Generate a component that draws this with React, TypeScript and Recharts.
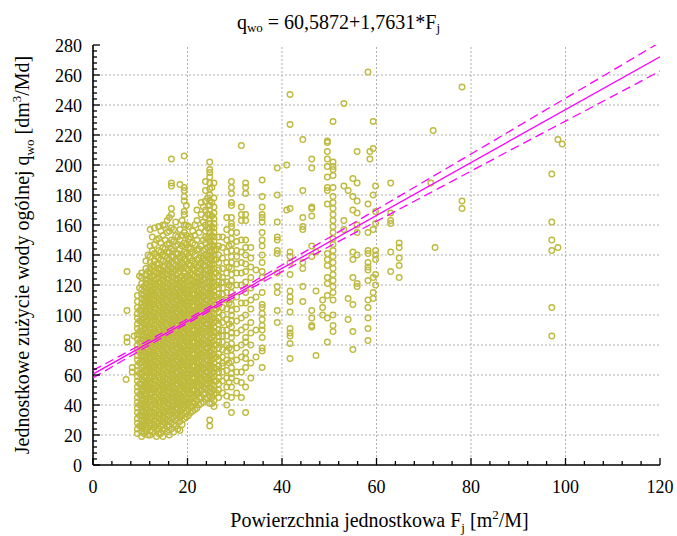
import React from 'react';
import { ScatterChart, Scatter, XAxis, YAxis, ReferenceLine } from 'recharts';

const FONT = '"Liberation Serif", "DejaVu Serif", serif';
const POINT_COLOR = '#bfba3e';
const FIT_COLOR = '#ff00ff';

const X_MAJOR_TICKS = [0, 20, 40, 60, 80, 100, 120];
const X_ALL_TICKS = [0, 4, 8, 12, 16, 20, 24, 28, 32, 36, 40, 44, 48, 52, 56, 60, 64, 68, 72, 76, 80, 84, 88, 92, 96, 100, 104, 108, 112, 116, 120];
const Y_MAJOR_TICKS = [0, 20, 40, 60, 80, 100, 120, 140, 160, 180, 200, 220, 240, 260, 280];
const Y_ALL_TICKS = [0, 4, 8, 12, 16, 20, 24, 28, 32, 36, 40, 44, 48, 52, 56, 60, 64, 68, 72, 76, 80, 84, 88, 92, 96, 100, 104, 108, 112, 116, 120, 124, 128, 132, 136, 140, 144, 148, 152, 156, 160, 164, 168, 172, 176, 180, 184, 188, 192, 196, 200, 204, 208, 212, 216, 220, 224, 228, 232, 236, 240, 244, 248, 252, 256, 260, 264, 268, 272, 276, 280];
const X_GRID = [20, 40, 60, 80, 100];
const Y_GRID = [20, 40, 60, 80, 100, 120, 140, 160, 180, 200, 220, 240, 260];

// regression q = 60,5872 + 1,7631*F and its confidence band
const FIT_X = [0, 120];
const FIT_Y = [60.59, 272.16];
const BAND_X = [0, 10, 20, 30, 40, 50, 60, 70, 80, 90, 100, 110, 120];
const BAND_UPPER = [63.1, 80.0, 97.3, 115.0, 133.3, 151.7, 170.3, 188.8, 207.3, 225.9, 244.5, 263.1, 281.8];
const BAND_LOWER = [58.1, 76.4, 94.5, 112.0, 128.9, 145.7, 162.5, 179.2, 195.9, 212.7, 229.3, 245.9, 262.6];

// observations, grouped as [F_j, list of q_wo]
const LEFT_POINTS: [number, number[]][] = [
  [7.0, [57]],
  [7.2, [129, 103, 85, 82]],
  [8.3, [65, 62]],
  [8.7, [86]],
];

const CORE_POINTS: [number, number[]][] = [
  [9.4, [21, 24, 28, 31, 35, 38, 42, 45, 49, 52, 56, 59, 63, 66, 70, 73, 77, 80, 84, 87, 91, 94, 98, 101, 105, 109, 113]],
  [10.3, [19, 22, 25, 27, 30, 33, 35, 38, 41, 43, 46, 49, 51, 54, 57, 60, 62, 65, 68, 70, 73, 76, 78, 81, 84, 87, 89, 92, 95, 97, 100, 103, 105, 108, 111, 114, 117, 121, 125, 128]],
  [11.2, [22, 24, 27, 30, 32, 35, 38, 40, 43, 46, 48, 51, 54, 56, 59, 62, 64, 67, 70, 72, 75, 78, 80, 83, 86, 88, 91, 94, 96, 99, 102, 104, 107, 110, 112, 115, 118, 121, 124, 127, 131, 136]],
  [12.1, [20, 23, 26, 28, 31, 34, 36, 39, 42, 44, 47, 50, 52, 55, 58, 60, 63, 66, 68, 71, 74, 76, 79, 82, 84, 87, 90, 92, 95, 98, 100, 103, 106, 108, 111, 114, 116, 119, 122, 125, 128, 131, 135, 139, 146, 157]],
  [13.0, [25, 27, 30, 33, 35, 38, 41, 43, 46, 49, 51, 54, 57, 59, 62, 65, 67, 70, 73, 75, 78, 81, 83, 86, 89, 91, 94, 97, 99, 102, 105, 107, 110, 113, 115, 118, 121, 123, 126, 129, 132, 136, 141, 147, 158]],
  [13.9, [21, 24, 28, 31, 34, 36, 39, 42, 44, 47, 50, 52, 55, 58, 60, 63, 66, 68, 71, 74, 76, 79, 82, 84, 87, 90, 92, 95, 98, 100, 103, 106, 108, 111, 114, 116, 119, 122, 125, 128, 131, 134, 138, 143, 151, 159]],
  [14.8, [19, 23, 27, 29, 32, 35, 37, 40, 43, 45, 48, 51, 53, 56, 59, 61, 64, 67, 69, 72, 75, 77, 80, 83, 85, 88, 91, 93, 96, 99, 101, 104, 107, 109, 112, 115, 117, 120, 123, 126, 129, 132, 136, 140, 145, 153, 160]],
  [15.7, [22, 26, 30, 33, 36, 38, 41, 44, 46, 49, 52, 54, 57, 60, 62, 65, 68, 70, 73, 76, 78, 81, 84, 86, 89, 92, 94, 97, 100, 102, 105, 108, 110, 113, 116, 118, 121, 124, 127, 130, 134, 138, 142, 147, 155, 163]],
  [16.6, [24, 28, 31, 34, 37, 39, 42, 45, 47, 50, 53, 55, 58, 61, 63, 66, 69, 71, 74, 77, 79, 82, 85, 87, 90, 93, 95, 98, 101, 103, 106, 109, 111, 114, 117, 119, 122, 125, 128, 131, 135, 139, 144, 150, 158, 167, 171, 186, 188, 204]],
  [17.5, [26, 30, 33, 35, 38, 41, 43, 46, 49, 51, 54, 57, 59, 62, 65, 67, 70, 73, 75, 78, 81, 83, 86, 89, 91, 94, 97, 99, 102, 105, 107, 110, 113, 115, 118, 121, 124, 127, 130, 133, 137, 141, 146, 153, 162]],
  [18.4, [23, 29, 32, 36, 39, 42, 44, 47, 50, 52, 55, 58, 60, 63, 66, 68, 71, 74, 76, 79, 82, 84, 87, 90, 92, 95, 98, 100, 103, 106, 108, 111, 114, 116, 119, 122, 125, 129, 133, 138, 144, 150, 157, 187]],
  [19.3, [31, 35, 38, 40, 43, 46, 48, 51, 54, 56, 59, 62, 64, 67, 70, 72, 75, 78, 80, 83, 86, 88, 91, 94, 96, 99, 102, 104, 107, 110, 112, 115, 118, 121, 124, 128, 132, 137, 142, 148, 155, 160, 167, 169, 176, 179, 183, 185, 206]],
  [20.2, [33, 37, 40, 42, 45, 48, 50, 53, 56, 58, 61, 64, 66, 69, 72, 74, 77, 80, 82, 85, 88, 90, 93, 96, 98, 101, 104, 106, 109, 112, 114, 117, 120, 123, 126, 130, 134, 139, 145, 151, 159]],
  [21.1, [36, 39, 42, 45, 47, 50, 53, 55, 58, 61, 63, 66, 69, 71, 74, 77, 79, 82, 85, 87, 90, 93, 95, 98, 101, 103, 106, 109, 111, 114, 117, 120, 123, 127, 131, 136, 142, 148, 156]],
  [22.0, [38, 43, 47, 49, 52, 55, 57, 60, 63, 65, 68, 71, 73, 76, 79, 81, 84, 87, 89, 92, 95, 97, 100, 103, 105, 108, 111, 113, 116, 119, 122, 125, 128, 132, 137, 143, 150, 163, 170]],
  [22.9, [41, 45, 50, 53, 56, 58, 61, 64, 66, 69, 72, 74, 77, 80, 82, 85, 88, 90, 93, 96, 98, 101, 104, 106, 109, 112, 114, 117, 120, 123, 126, 130, 134, 139, 146, 158, 167, 175]],
  [23.8, [44, 48, 51, 54, 57, 59, 62, 65, 67, 70, 73, 75, 78, 81, 83, 86, 89, 91, 94, 97, 99, 102, 105, 107, 110, 113, 115, 118, 121, 124, 127, 130, 133, 136, 140, 144, 148, 152, 156, 160, 165, 170, 176, 183, 189]],
  [24.7, [26, 30, 41, 46, 49, 52, 55, 57, 60, 63, 65, 68, 71, 73, 76, 79, 81, 84, 87, 89, 92, 95, 97, 100, 103, 105, 108, 111, 113, 116, 119, 122, 125, 128, 131, 134, 137, 140, 143, 146, 149, 152, 155, 158, 161, 164, 167, 170, 173, 176, 180, 184, 188, 192, 195, 197, 202]],
  [25.6, [39, 43, 47, 50, 53, 56, 59, 62, 65, 68, 71, 74, 77, 80, 83, 86, 89, 92, 95, 98, 101, 104, 107, 110, 113, 116, 119, 122, 125, 128, 131, 134, 137, 140, 143, 146, 149, 152, 155, 158, 161, 164, 168, 172, 178, 188]],
  [26.6, [45, 50, 54, 58, 62, 66, 70, 74, 78, 82, 86, 90, 94, 98, 102, 106, 110, 114, 118, 122, 126, 130, 135, 140, 146, 152]],
  [27.4, [48, 56, 62, 66, 68, 72, 77, 82, 86, 90, 95, 100, 105, 110, 114, 118, 122, 125, 131, 138, 145, 152]],
  [28.3, [40, 46, 52, 58, 63, 70, 76, 80, 86, 90, 97, 104, 110, 115, 122, 128, 135, 142, 150, 157, 165]],
  [29.3, [35, 45, 52, 58, 61, 65, 69, 73, 77, 81, 85, 88, 92, 96, 100, 103, 107, 111, 115, 119, 123, 127, 131, 135, 139, 143, 147, 151, 155, 159, 161, 165, 173, 175, 181, 185, 189]],
  [30.4, [48, 56, 62, 70, 78, 88, 96, 104, 112, 120, 128, 134, 139, 143, 149, 155]],
  [31.4, [45, 55, 62, 72, 80, 90, 98, 108, 120, 128, 135, 142, 150, 163, 167, 172, 213]],
  [32.3, [35, 52, 65, 71, 75, 82, 85, 92, 100, 108, 115, 122, 129, 134, 140, 145, 150, 163, 167, 181, 185, 188]],
  [33.4, [58, 68, 80, 88, 95, 104, 110, 118, 125, 132, 138, 145]],
  [34.5, [72, 90, 112, 130]],
  [35.8, [65, 76, 78, 85, 90, 93, 97, 101, 105, 107, 115, 125, 129, 135, 140, 146, 150, 155, 162, 165, 167, 172, 179, 190]],
  [39.0, [95, 103, 115, 119, 128, 141, 143, 150, 152, 162, 180, 198]],
  [41.0, [170, 200]],
];

// second, interleaved set of observations inside the densest part of the cloud
const CORE_FILL_POINTS: [number, number[]][] = [
  [9.85, [26, 33, 40, 47, 54, 61, 68, 75, 82, 89, 96, 103, 118, 126]],
  [10.75, [21, 26, 29, 32, 36, 40, 44, 47, 50, 53, 56, 59, 63, 66, 69, 72, 75, 80, 83, 86, 90, 94, 98, 101, 106, 110, 113, 119]],
  [11.65, [20, 25, 29, 33, 37, 41, 45, 50, 53, 57, 61, 65, 69, 74, 77, 82, 85, 89, 93, 97, 101, 106, 109, 113, 117, 123, 129, 140]],
  [12.55, [22, 27, 32, 35, 40, 43, 48, 51, 54, 59, 62, 65, 69, 73, 78, 80, 86, 88, 91, 96, 99, 102, 107, 110, 113, 117, 121, 126, 133, 143, 152]],
  [13.45, [19, 23, 29, 32, 37, 40, 45, 48, 53, 56, 61, 64, 69, 72, 77, 80, 85, 88, 93, 96, 101, 104, 109, 112, 117, 120, 124, 128, 134, 139, 150]],
  [14.35, [21, 26, 30, 34, 38, 42, 46, 50, 54, 57, 62, 66, 70, 73, 78, 81, 86, 89, 94, 97, 102, 105, 110, 113, 118, 121, 127, 130, 137, 142, 148, 156]],
  [15.25, [24, 28, 31, 35, 39, 43, 47, 51, 55, 58, 63, 67, 71, 74, 79, 82, 87, 90, 95, 98, 103, 106, 111, 114, 119, 122, 128, 133, 139, 144, 150, 160]],
  [16.15, [20, 26, 29, 33, 36, 40, 44, 48, 52, 56, 60, 64, 68, 72, 75, 80, 84, 88, 91, 96, 100, 104, 107, 112, 116, 120, 124, 129, 133, 137, 142, 148, 156, 165]],
  [17.05, [22, 27, 32, 36, 40, 45, 48, 52, 56, 60, 64, 68, 72, 76, 80, 85, 88, 92, 96, 100, 104, 108, 112, 116, 120, 125, 129, 134, 139, 143, 149, 157]],
  [17.95, [24, 31, 34, 37, 41, 45, 48, 53, 57, 61, 65, 69, 72, 77, 80, 85, 89, 93, 96, 101, 104, 109, 112, 117, 120, 124, 128, 132, 136, 141, 147, 152]],
  [18.85, [27, 33, 37, 41, 45, 49, 53, 57, 61, 65, 69, 73, 77, 81, 85, 89, 93, 97, 101, 105, 109, 113, 117, 121, 126, 131, 135, 140, 146, 153, 163]],
  [19.75, [32, 36, 41, 45, 50, 53, 58, 61, 66, 69, 74, 77, 82, 85, 90, 93, 98, 101, 106, 109, 114, 117, 122, 126, 131, 136, 141, 147, 153, 160, 173]],
  [20.65, [35, 39, 44, 47, 52, 55, 60, 63, 68, 71, 76, 79, 84, 87, 92, 95, 100, 103, 108, 111, 116, 119, 124, 128, 133, 138, 144, 152]],
  [21.55, [37, 41, 46, 50, 54, 58, 62, 66, 70, 74, 78, 82, 86, 90, 94, 98, 102, 106, 110, 114, 118, 122, 126, 130, 134, 140, 147, 153, 160]],
  [22.45, [40, 45, 48, 53, 57, 61, 65, 69, 73, 77, 81, 85, 89, 93, 97, 101, 105, 109, 113, 117, 121, 125, 129, 133, 138, 144, 155]],
  [23.35, [42, 47, 52, 55, 60, 64, 68, 72, 76, 80, 84, 88, 92, 96, 100, 104, 108, 112, 116, 120, 124, 128, 133, 138, 143, 150, 162, 172]],
  [24.25, [45, 50, 54, 58, 62, 66, 70, 74, 78, 82, 86, 90, 94, 98, 102, 106, 110, 114, 118, 122, 126, 130, 135, 139, 145, 151, 158, 167, 178]],
  [25.15, [41, 45, 49, 54, 58, 61, 66, 70, 73, 78, 82, 85, 90, 94, 97, 102, 106, 109, 114, 118, 121, 126, 130, 133, 138, 142, 147, 153, 159, 166, 175, 185]],
  [26.1, [48, 56, 64, 72, 80, 88, 96, 104, 112, 120, 128, 137, 144]],
  [28.8, [55, 68, 78, 94, 108, 120, 132, 146]],
];

const RIGHT_POINTS: [number, number[]][] = [
  [41.7, [247, 227, 171, 142, 139, 135, 127, 116, 112, 109, 102, 91, 88, 86, 81, 71]],
  [44.4, [217, 183, 165, 159, 157, 135, 131, 119, 109]],
  [46.3, [204, 198, 172, 171, 166, 146, 139, 103, 98, 93, 92]],
  [47.2, [142, 116, 73]],
  [48.6, [110, 105, 100]],
  [49.6, [216, 215, 209, 204, 199, 192, 185, 183, 174, 141, 137, 133, 125, 121, 113, 98, 82]],
  [50.8, [229, 202, 199, 197, 193, 185, 179, 175, 171, 167, 163, 159, 155, 151, 147, 143, 139, 135, 131, 127, 123, 119, 115, 110, 100, 93, 89]],
  [53.1, [241, 186, 163, 157]],
  [54.0, [183, 111, 97]],
  [55.0, [191, 179, 170, 142, 137, 125, 107, 89, 77]],
  [55.9, [209, 188, 176, 168, 160, 155, 140, 121, 119]],
  [58.2, [262, 174, 155, 143, 141, 135, 132, 130, 123, 110, 105, 98, 91, 83]],
  [58.6, [209, 204]],
  [59.3, [229, 211, 180, 157, 125, 115, 111]],
  [59.8, [186, 169, 161, 143, 140, 137, 127, 120]],
  [63.0, [188, 168, 163, 161, 142, 129]],
  [64.8, [148, 145, 138, 133, 125]],
  [71.5, [188]],
  [72.0, [223]],
  [72.4, [145]],
  [78.1, [252, 176, 171]],
  [97.1, [194, 162, 150, 143, 105, 86]],
  [98.4, [217, 145]],
  [99.3, [214]],
];

const observations = [...LEFT_POINTS, ...CORE_POINTS, ...CORE_FILL_POINTS, ...RIGHT_POINTS].flatMap(([x, ys]) =>
  ys.map((y) => ({ x, y }))
);
const fitData = FIT_X.map((x, i) => ({ x, y: FIT_Y[i] }));
const upperData = BAND_X.map((x, i) => ({ x, y: BAND_UPPER[i] }));
const lowerData = BAND_X.map((x, i) => ({ x, y: BAND_LOWER[i] }));

const Ring = (props: any) => (
  <circle cx={props.cx} cy={props.cy} r={2.8} fill="none" stroke={POINT_COLOR} strokeWidth={1.35} />
);
const NoDot = () => <g />;

const BottomTick = (props: any) => {
  const { x, y, payload } = props;
  const major = X_MAJOR_TICKS.includes(payload.value);
  return (
    <g>
      <line x1={x} x2={x} y1={y} y2={y - (major ? 7 : 4)} stroke="#000" strokeWidth={1.3} />
      {major && (
        <text x={x} y={y + 28} textAnchor="middle" fontFamily={FONT} fontSize={18} fill="#000">
          {payload.value}
        </text>
      )}
    </g>
  );
};

const TopTick = (props: any) => {
  const { x, y, payload } = props;
  const major = X_MAJOR_TICKS.includes(payload.value);
  return <line x1={x} x2={x} y1={y} y2={y + (major ? 7 : 4)} stroke="#000" strokeWidth={1.3} />;
};

const LeftTick = (props: any) => {
  const { x, y, payload } = props;
  const major = Y_MAJOR_TICKS.includes(payload.value);
  return (
    <g>
      <line x1={x} x2={x + (major ? 7 : 4)} y1={y} y2={y} stroke="#000" strokeWidth={1.3} />
      {major && (
        <text x={x - 11} y={y + 6.5} textAnchor="end" fontFamily={FONT} fontSize={18} fill="#000">
          {payload.value}
        </text>
      )}
    </g>
  );
};

const RightTick = (props: any) => {
  const { x, y, payload } = props;
  const major = Y_MAJOR_TICKS.includes(payload.value);
  return <line x1={x} x2={x - (major ? 7 : 4)} y1={y} y2={y} stroke="#000" strokeWidth={1.3} />;
};

const XTitle = (props: any) => {
  const vb = props.viewBox || {};
  const cx = vb.x + vb.width / 2 + 3;
  const by = vb.y + 62;
  return (
    <text x={cx} y={by} textAnchor="middle" fontFamily={FONT} fontSize={20} fill="#000">
      <tspan>Powierzchnia jednostkowa F</tspan>
      <tspan fontSize={13} dy={5}>j</tspan>
      <tspan dy={-5}> [m</tspan>
      <tspan fontSize={13} dy={-8}>2</tspan>
      <tspan dy={8}>/M]</tspan>
    </text>
  );
};

const YTitle = (props: any) => {
  const vb = props.viewBox || {};
  const cx = vb.x + 21;
  const cy = vb.y + vb.height / 2;
  return (
    <text
      x={cx}
      y={cy}
      transform={`rotate(-90 ${cx} ${cy})`}
      textAnchor="middle"
      fontFamily={FONT}
      fontSize={20}
      fill="#000"
    >
      <tspan>Jednostkowe zużycie wody ogólnej q</tspan>
      <tspan fontSize={13} dy={5}>wo</tspan>
      <tspan dy={-5}> [dm</tspan>
      <tspan fontSize={13} dy={-8}>3</tspan>
      <tspan dy={8}>/Md]</tspan>
    </text>
  );
};

const axisLineStyle = { stroke: '#000', strokeWidth: 1.6 };

export default function App() {
  return (
    <div style={{ position: 'relative', width: 677, height: 536, overflow: 'hidden' }}>
      <style>{'body{margin:0}'}</style>
      <div
        style={{
          position: 'absolute',
          top: 11,
          left: 8,
          width: 661,
          textAlign: 'center',
          fontFamily: FONT,
          fontSize: 20,
          lineHeight: '23px',
          color: '#000',
          zIndex: 2,
        }}
      >
        q<span style={{ fontSize: 13, verticalAlign: '-0.25em' }}>wo</span> = 60,5872+1,7631*F
        <span style={{ fontSize: 13, verticalAlign: '-0.25em' }}>j</span>
      </div>
      <div style={{ position: 'absolute', left: 8, top: 8 }}>
        <ScatterChart width={669} height={528} margin={{ top: 37, right: 17, bottom: 8, left: 0 }}>
          <XAxis
            type="number"
            dataKey="x"
            domain={[0, 120]}
            ticks={X_ALL_TICKS}
            interval={0}
            height={63}
            tickSize={0}
            tickMargin={0}
            tickLine={false}
            tick={BottomTick}
            axisLine={axisLineStyle}
            allowDataOverflow
            label={XTitle}
          />
          <YAxis
            type="number"
            dataKey="y"
            domain={[0, 280]}
            ticks={Y_ALL_TICKS}
            interval={0}
            width={85}
            tickSize={0}
            tickMargin={0}
            tickLine={false}
            tick={LeftTick}
            axisLine={axisLineStyle}
            allowDataOverflow
            label={YTitle}
          />
          <XAxis
            xAxisId="top"
            orientation="top"
            type="number"
            dataKey="x"
            domain={[0, 120]}
            ticks={X_ALL_TICKS}
            interval={0}
            height={0}
            tickSize={0}
            tickMargin={0}
            tickLine={false}
            tick={TopTick}
            axisLine={axisLineStyle}
            allowDataOverflow
          />
          <YAxis
            yAxisId="right"
            orientation="right"
            type="number"
            dataKey="y"
            domain={[0, 280]}
            ticks={Y_ALL_TICKS}
            interval={0}
            width={0}
            tickSize={0}
            tickMargin={0}
            tickLine={false}
            tick={RightTick}
            axisLine={axisLineStyle}
            allowDataOverflow
          />
          {X_GRID.map((v) => (
            <ReferenceLine key={'gx' + v} x={v} stroke="#b0b0b0" strokeDasharray="2 2" strokeWidth={1} />
          ))}
          {Y_GRID.map((v) => (
            <ReferenceLine key={'gy' + v} y={v} stroke="#b0b0b0" strokeDasharray="2 2" strokeWidth={1} />
          ))}
          <Scatter data={observations} shape={Ring} isAnimationActive={false} />
          <Scatter
            xAxisId="top"
            yAxisId="right"
            data={fitData}
            shape={NoDot}
            line={{ stroke: FIT_COLOR, strokeWidth: 1.3 }}
            lineType="joint"
            isAnimationActive={false}
          />
          <Scatter
            xAxisId="top"
            yAxisId="right"
            data={upperData}
            shape={NoDot}
            line={{ stroke: FIT_COLOR, strokeWidth: 1.3, strokeDasharray: '9 5' }}
            lineType="joint"
            isAnimationActive={false}
          />
          <Scatter
            xAxisId="top"
            yAxisId="right"
            data={lowerData}
            shape={NoDot}
            line={{ stroke: FIT_COLOR, strokeWidth: 1.3, strokeDasharray: '9 5' }}
            lineType="joint"
            isAnimationActive={false}
          />
        </ScatterChart>
      </div>
    </div>
  );
}
